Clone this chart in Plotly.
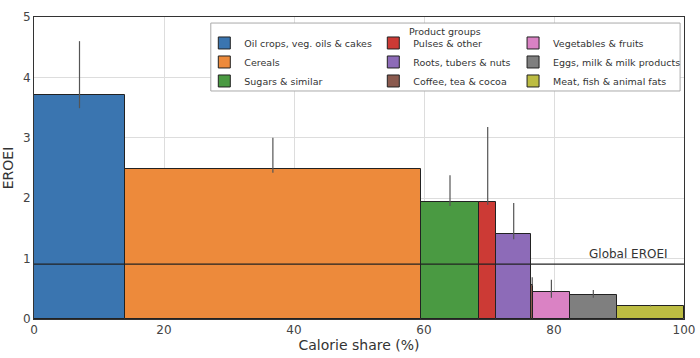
import plotly.graph_objects as go

groups = ["Oil crops, veg. oils & cakes", "Cereals", "Sugars & similar",
          "Pulses & other", "Roots, tubers & nuts", "Coffee, tea & cocoa",
          "Vegetables & fruits", "Eggs, milk & milk products", "Meat, fish & animal fats"]
calorie_share = [14.0, 45.5, 9.0, 2.6, 5.4, 0.3, 5.6, 7.3, 10.3]
eroei = [3.71, 2.48, 1.94, 1.94, 1.41, 0.56, 0.45, 0.40, 0.215]
err_low = [3.49, 2.42, 1.87, 1.89, 1.32, 0.55, 0.35, 0.35, 0.21]
err_high = [4.60, 3.00, 2.38, 3.18, 1.92, 0.69, 0.65, 0.48, 0.235]
colors = ["#3a75b0", "#ed8a3b", "#4a9a42", "#cc3a35", "#8d6bb8",
          "#8a5a4e", "#da82c4", "#7f7f7f", "#bcbc42"]
global_eroei = 0.91
legend_title = "Product groups"

# three legend columns, three groups each
legend_ids = ["legend", "legend", "legend",
              "legend2", "legend2", "legend2",
              "legend3", "legend3", "legend3"]

lefts = []
acc = 0.0
for w in calorie_share:
    lefts.append(acc)
    acc += w

fig = go.Figure()
for i in range(len(groups)):
    center = lefts[i] + calorie_share[i] / 2
    fig.add_trace(go.Bar(
        x=[center], y=[eroei[i]], width=[calorie_share[i]], name=groups[i],
        marker=dict(color=colors[i], line=dict(color="#222222", width=1)),
        error_y=dict(type="data", symmetric=False,
                     array=[err_high[i] - eroei[i]],
                     arrayminus=[eroei[i] - err_low[i]],
                     color="#555555", thickness=1.2, width=0),
        legend=legend_ids[i],
    ))

fig.add_shape(type="line", xref="paper", x0=0, x1=1, yref="y",
              y0=global_eroei, y1=global_eroei,
              line=dict(color="#222222", width=1.2))
fig.add_annotation(x=91.5, y=global_eroei, text="Global EROEI", showarrow=False,
                   yanchor="bottom", yshift=1, font=dict(size=12, color="#333333"))

# legend frame and title
fig.add_shape(type="rect", xref="paper", yref="paper", x0=0.272, x1=0.994,
              y0=0.755, y1=0.98, layer="above",
              fillcolor="white", line=dict(color="#aaaaaa", width=1))
fig.add_annotation(xref="paper", yref="paper", x=0.633, y=0.978, text=legend_title,
                   showarrow=False, yanchor="top", font=dict(size=9.5, color="#333333"))

leg_common = dict(orientation="v", yanchor="top", xanchor="left",
                  bgcolor="rgba(0,0,0,0)", borderwidth=0, font=dict(size=9.5),
                  itemwidth=30, tracegroupgap=0)

fig.update_layout(
    width=700, height=358,
    margin=dict(l=34, r=16, t=17, b=39, autoexpand=False),
    paper_bgcolor="white", plot_bgcolor="white",
    font=dict(family="DejaVu Sans", color="#333333"),
    barmode="overlay", bargap=0,
    showlegend=True,
    legend=dict(x=0.262, y=0.962, **leg_common),
    legend2=dict(x=0.522, y=0.962, **leg_common),
    legend3=dict(x=0.737, y=0.962, **leg_common),
    xaxis=dict(range=[0, 100], tickvals=[0, 20, 40, 60, 80, 100], automargin=False,
               title=dict(text="Calorie share (%)", font=dict(size=14), standoff=2),
               showgrid=True, gridcolor="#dddddd", zeroline=False,
               showline=True, linecolor="#333333", linewidth=1, mirror=True,
               tickfont=dict(size=12, color="#444444"), ticks=""),
    yaxis=dict(range=[0, 5], tickvals=[0, 1, 2, 3, 4, 5], automargin=False,
               title=dict(text="EROEI", font=dict(size=14), standoff=6),
               showgrid=True, gridcolor="#dddddd", zeroline=False,
               showline=True, linecolor="#333333", linewidth=1, mirror=True,
               tickfont=dict(size=12, color="#444444"), ticks=""),
)

fig.write_html("out.html", config={"displayModeBar": False},
               post_script="document.body.style.margin='0';document.body.style.overflow='hidden';")
